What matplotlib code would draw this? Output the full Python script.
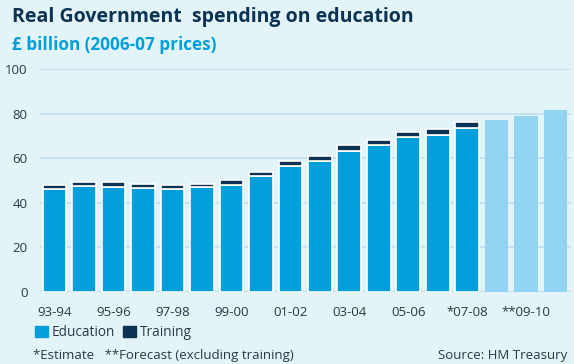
#!/usr/bin/env python3
"""
Real Government spending on education, 1993-94 to 2010-11
Stacked bars (education + training) with forecast years shaded lighter
"""

import matplotlib
matplotlib.use('Agg')
import matplotlib.pyplot as plt
import matplotlib.patches as patches

# House colours
BG = '#E3F4F8'
NAVY = '#0C3353'
EDU_BLUE = '#009FDB'
FORECAST_BLUE = '#92D3F2'
GRID_BLUE = '#BEDDF0'
TEXT_GREY = '#2B3845'

FONT = 'Open Sans'

# Financial years, 1993-94 through 2010-11
years = ['93-94', '94-95', '95-96', '96-97', '97-98', '98-99', '99-00',
         '00-01', '01-02', '02-03', '03-04', '04-05', '05-06', '06-07',
         '*07-08', '08-09', '**09-10', '10-11']

# £ billion, 2006-07 prices
education = [46.3, 47.6, 47.3, 46.6, 46.4, 46.9, 48.2, 51.9, 56.6,
             58.7, 63.3, 65.8, 69.3, 70.6, 73.6]
training = [1.6, 1.7, 2.0, 1.8, 1.5, 1.5, 2.0, 1.8, 2.1,
            2.2, 2.5, 2.3, 2.4, 2.4, 2.5]
forecast = [77.0, 78.8, 81.5]

yticks = [0, 20, 40, 60, 80, 100]

fig = plt.figure(figsize=(5.74, 3.64), dpi=100, facecolor=BG)
ax = fig.add_axes([40 / 574, 1 - 292 / 364, 531 / 574, 223 / 364])
ax.set_facecolor(BG)

n_actual = len(education)
x_actual = list(range(n_actual))
x_forecast = list(range(n_actual, n_actual + len(forecast)))

width = 0.8
ax.bar(x_actual, education, width=width, color=EDU_BLUE,
       edgecolor='white', linewidth=1.2, zorder=3)
ax.bar(x_actual, training, bottom=education, width=width, color=NAVY,
       edgecolor='white', linewidth=1.2, zorder=3)
ax.bar(x_forecast, forecast, width=width, color=FORECAST_BLUE,
       edgecolor='none', zorder=3)

ax.set_xlim(-0.49, len(years) - 0.48)
ax.set_ylim(0, 100)

# Light blue horizontal rules in place of an axis frame
for v in yticks:
    ax.axhline(v, color=GRID_BLUE, linewidth=1.6 if v == 0 else 1.2, zorder=1)
for side in ax.spines.values():
    side.set_visible(False)

ax.set_yticks(yticks)
ax.set_yticklabels([str(v) for v in yticks], fontsize=9.5,
                   color=TEXT_GREY, family=FONT)
ax.set_xticks(range(0, len(years), 2))
ax.set_xticklabels(years[::2], fontsize=9.5, color=TEXT_GREY, family=FONT)
ax.tick_params(axis='y', length=0, pad=9)
ax.tick_params(axis='x', length=0, pad=10)

# Title block
fig.text(12 / 574, 1 - 7 / 364, 'Real Government  spending on education',
         ha='left', va='top', fontsize=14, fontweight='bold',
         color=NAVY, family=FONT)
fig.text(12 / 574, 1 - 36 / 364, '£ billion (2006-07 prices)',
         ha='left', va='top', fontsize=12.3, fontweight='bold',
         color=EDU_BLUE, family=FONT)

# Legend
handles = [patches.Patch(color=EDU_BLUE, label='Education'),
           patches.Patch(color=NAVY, label='Training')]
fig.legend(handles=handles, loc='center left',
           bbox_to_anchor=(30 / 574, 1 - 333 / 364), ncol=2,
           frameon=False, handlelength=0.9, handleheight=0.9,
           handletextpad=0.3, columnspacing=0.6, borderaxespad=0,
           labelcolor=TEXT_GREY,
           prop={'family': FONT, 'size': 9.8})

# Footnotes
fig.text(33 / 574, 1 - 355 / 364, '*Estimate   **Forecast (excluding training)',
         ha='left', va='center', fontsize=9.5, color=TEXT_GREY, family=FONT)
fig.text(567 / 574, 1 - 355 / 364, 'Source: HM Treasury',
         ha='right', va='center', fontsize=9.5, color=TEXT_GREY, family=FONT)

fig.savefig('out.png', dpi=100, facecolor=BG)
plt.close(fig)
